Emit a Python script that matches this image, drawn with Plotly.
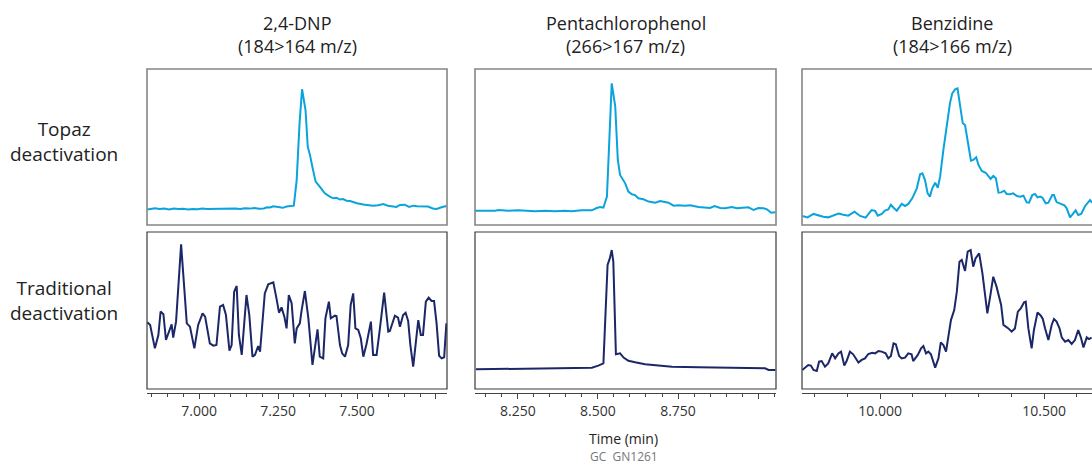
import plotly.graph_objects as go

# ---------------- data (time in min, intensity in % of panel height) ----------------
t_dnp_topaz = [6.836, 6.85, 6.86, 6.875, 6.89, 6.905, 6.92, 6.935, 6.95, 6.965, 6.98, 6.995, 7.01, 7.025,
               7.04, 7.055, 7.07, 7.085, 7.10, 7.115, 7.13, 7.145, 7.16, 7.175, 7.19, 7.205, 7.215, 7.225,
               7.235, 7.25, 7.265, 7.277, 7.29, 7.300, 7.309, 7.318, 7.326, 7.337, 7.344, 7.351, 7.360,
               7.369, 7.382, 7.398, 7.414, 7.425, 7.435, 7.446, 7.456, 7.467, 7.478, 7.488, 7.50, 7.52,
               7.535, 7.551, 7.567, 7.583, 7.598, 7.614, 7.625, 7.636, 7.651, 7.665, 7.678, 7.69, 7.709,
               7.725, 7.74, 7.752, 7.768, 7.783]
i_dnp_topaz = [10.0, 10.3, 10.8, 10.2, 10.5, 10.0, 10.6, 10.2, 10.4, 10.0, 10.3, 10.1, 10.5, 10.2,
               10.3, 10.4, 10.1, 10.6, 10.3, 10.5, 10.2, 10.7, 10.5, 10.9, 10.4, 10.6, 11.4, 11.2,
               12.0, 11.5, 11.0, 11.8, 12.2, 12.4, 28.8, 65.0, 87.0, 73.7, 50.2, 44.9, 36.0,
               27.8, 24.6, 20.3, 18.2, 17.1, 17.5, 16.3, 16.6, 15.6, 15.4, 14.7, 14.0, 13.2,
               12.9, 12.4, 12.6, 13.4, 12.4, 12.0, 11.6, 12.9, 13.0, 11.6, 12.4, 12.0, 12.1,
               11.8, 10.6, 10.3, 11.4, 12.2]

t_dnp_trad = [6.836, 6.845, 6.860, 6.871, 6.878, 6.887, 6.895, 6.913, 6.918, 6.927, 6.943, 6.961, 6.971,
              6.980, 6.985, 6.997, 7.011, 7.019, 7.034, 7.045, 7.055, 7.066, 7.076, 7.085, 7.096, 7.103,
              7.111, 7.119, 7.126, 7.135, 7.150, 7.159, 7.169, 7.177, 7.187, 7.193, 7.208, 7.219, 7.235,
              7.245, 7.253, 7.261, 7.270, 7.277, 7.284, 7.293, 7.303, 7.309, 7.319, 7.324, 7.335, 7.346,
              7.359, 7.375, 7.382, 7.393, 7.400, 7.411, 7.417, 7.430, 7.435, 7.446, 7.453, 7.462, 7.472,
              7.480, 7.488, 7.495, 7.504, 7.512, 7.520, 7.530, 7.544, 7.551, 7.562, 7.572, 7.586, 7.599,
              7.604, 7.620, 7.630, 7.636, 7.646, 7.654, 7.662, 7.669, 7.678, 7.686, 7.694, 7.702, 7.709,
              7.718, 7.727, 7.736, 7.744, 7.752, 7.760, 7.768, 7.776, 7.783]
i_dnp_trad = [42.5, 40.8, 25.9, 34.4, 49.3, 47.6, 31.2, 41.2, 32.7, 42.9, 92.1, 41.8, 39.7,
              29.1, 25.9, 40.8, 48.2, 46.1, 29.1, 27.6, 28.0, 52.4, 53.5, 47.1, 24.4, 28.0,
              62.0, 65.6, 34.4, 21.7, 59.9, 47.1, 20.6, 21.7, 27.4, 23.8, 60.9, 66.7, 67.9,
              57.7, 48.6, 52.0, 46.1, 38.6, 59.9, 54.6, 29.1, 38.6, 41.8, 49.3, 62.4, 45.0,
              15.3, 38.0, 20.6, 19.5, 45.0, 55.6, 45.0, 46.7, 46.5, 28.0, 22.7, 20.6, 28.0,
              53.5, 60.9, 38.6, 37.6, 32.3, 20.6, 28.5, 42.9, 21.7, 21.7, 37.6, 61.4, 36.5,
              36.9, 46.7, 45.4, 39.7, 47.1, 48.6, 43.3, 28.0, 14.2, 29.1, 43.9, 34.4, 34.4,
              55.6, 58.2, 56.1, 56.1, 41.8, 21.2, 19.5, 20.2, 41.8]

t_pcp_topaz = [8.116, 8.147, 8.179, 8.189, 8.220, 8.251, 8.283, 8.304, 8.335, 8.366, 8.397, 8.418, 8.449,
               8.481, 8.496, 8.507, 8.517, 8.528, 8.543, 8.554, 8.562, 8.569, 8.585, 8.595, 8.606, 8.616,
               8.626, 8.642, 8.658, 8.679, 8.694, 8.710, 8.720, 8.736, 8.751, 8.772, 8.788, 8.814, 8.835,
               8.850, 8.864, 8.882, 8.897, 8.918, 8.934, 8.970, 8.986, 9.001, 9.017, 9.028, 9.041, 9.054]
i_pcp_topaz = [9.2, 9.0, 9.2, 9.6, 9.2, 9.4, 9.0, 8.8, 9.2, 8.8, 9.2, 8.8, 9.4,
               9.4, 10.9, 11.5, 11.1, 18.2, 90.8, 75.9, 41.7, 32.1, 26.7, 21.4, 19.7, 19.2,
               17.1, 16.5, 15.0, 14.3, 15.4, 14.7, 14.3, 12.4, 12.6, 12.4, 12.6, 11.5, 10.9,
               10.9, 12.2, 10.9, 10.7, 11.5, 10.7, 11.3, 9.6, 10.9, 10.7, 10.0, 7.9, 8.1]

t_pcp_trad = [8.119, 8.189, 8.293, 8.397, 8.481, 8.501, 8.517, 8.530, 8.537, 8.543, 8.548, 8.556,
              8.569, 8.580, 8.595, 8.616, 8.647, 8.689, 8.731, 8.814, 8.918, 9.022, 9.033, 9.054]
i_pcp_trad = [12.5, 12.7, 12.7, 13.2, 13.6, 14.9, 16.3, 79.0, 83.2, 88.5, 81.1, 22.1,
              22.7, 20.0, 18.0, 17.0, 15.7, 14.9, 14.2, 13.8, 13.6, 13.2, 12.1, 12.1]

t_bnz_topaz = [9.763, 9.779, 9.797, 9.812, 9.827, 9.842, 9.858, 9.873, 9.888, 9.903, 9.922, 9.939, 9.956,
               9.974, 9.985, 9.993, 10.005, 10.015, 10.025, 10.033, 10.041, 10.051, 10.066, 10.076, 10.086,
               10.098, 10.112, 10.122, 10.129, 10.137, 10.145, 10.152, 10.159, 10.168, 10.176, 10.183,
               10.193, 10.203, 10.213, 10.220, 10.229, 10.236, 10.244, 10.252, 10.259, 10.269, 10.277,
               10.284, 10.293, 10.300, 10.310, 10.322, 10.330, 10.337, 10.345, 10.353, 10.361, 10.369,
               10.378, 10.386, 10.396, 10.406, 10.417, 10.427, 10.437, 10.447, 10.454, 10.464, 10.472,
               10.480, 10.488, 10.495, 10.505, 10.513, 10.525, 10.530, 10.538, 10.549, 10.562, 10.569,
               10.579, 10.589, 10.596, 10.604, 10.613, 10.625, 10.640, 10.646]
i_bnz_topaz = [5.8, 4.9, 7.1, 6.2, 5.3, 4.9, 6.0, 7.3, 6.6, 6.0, 8.5, 5.8, 4.7,
               9.6, 9.0, 6.0, 7.1, 9.2, 10.0, 13.0, 11.1, 9.2, 13.5, 12.2, 13.5,
               17.1, 23.5, 32.5, 33.1, 28.8, 20.3, 18.2, 23.5, 27.1, 23.9, 31.0,
               48.1, 63.0, 78.0, 84.4, 87.0, 87.6, 75.9, 65.2, 64.1, 52.4, 41.2,
               41.7, 43.4, 38.5, 34.6, 33.5, 31.0, 29.5, 31.4, 29.9, 20.7, 20.9,
               22.0, 19.9, 19.7, 20.3, 18.6, 18.2, 18.8, 14.5, 14.3, 19.2, 19.9,
               17.7, 18.2, 17.5, 13.9, 14.3, 19.2, 19.2, 14.7, 13.9, 12.6, 10.7,
               4.9, 7.5, 9.4, 6.4, 7.1, 12.2, 16.0, 14.3]

t_bnz_trad = [9.763, 9.771, 9.781, 9.789, 9.797, 9.807, 9.814, 9.822, 9.832, 9.842, 9.854, 9.863, 9.873,
              9.881, 9.891, 9.898, 9.908, 9.918, 9.934, 9.944, 9.954, 9.964, 9.976, 9.985, 9.995, 10.005,
              10.017, 10.025, 10.033, 10.041, 10.048, 10.058, 10.066, 10.076, 10.086, 10.096, 10.101,
              10.115, 10.125, 10.132, 10.140, 10.147, 10.155, 10.168, 10.178, 10.185, 10.193, 10.201,
              10.208, 10.216, 10.226, 10.234, 10.242, 10.249, 10.259, 10.267, 10.276, 10.284, 10.291,
              10.302, 10.312, 10.320, 10.327, 10.335, 10.345, 10.355, 10.369, 10.376, 10.384, 10.391,
              10.401, 10.411, 10.420, 10.429, 10.439, 10.444, 10.452, 10.462, 10.469, 10.480, 10.490,
              10.496, 10.503, 10.513, 10.523, 10.530, 10.538, 10.547, 10.554, 10.564, 10.574, 10.584,
              10.594, 10.604, 10.612, 10.620, 10.630, 10.637, 10.645]
i_bnz_trad = [12.1, 13.6, 15.3, 14.9, 12.1, 11.5, 17.4, 17.8, 14.2, 16.3, 22.7, 19.5, 22.7,
              23.8, 14.9, 17.8, 23.8, 22.1, 16.8, 18.5, 19.5, 22.3, 23.1, 22.7, 24.2, 23.8,
              22.7, 19.5, 21.0, 29.1, 28.5, 21.0, 19.5, 20.0, 22.7, 22.1, 17.8,
              21.7, 25.9, 27.4, 22.7, 23.8, 22.1, 13.6, 19.5, 29.7, 28.0, 23.8,
              32.3, 43.9, 50.3, 62.0, 81.1, 82.2, 75.2, 87.5, 88.5, 77.9, 83.2,
              86.4, 73.7, 57.7, 48.2, 58.2, 71.5, 65.2, 53.5, 40.8, 39.7, 38.6,
              36.5, 38.6, 49.3, 51.4, 55.2, 55.6, 38.6, 25.9, 37.6, 48.8, 46.7,
              44.6, 38.6, 31.2, 40.8, 44.6, 42.9, 38.6, 32.7, 30.1, 31.2, 28.7,
              31.2, 37.6, 32.9, 26.5, 32.9, 31.8, 32.7]

compound_titles = ["2,4-DNP", "Pentachlorophenol", "Benzidine"]
transition_labels = ["(184>164 m/z)", "(266>167 m/z)", "(184>166 m/z)"]
row_labels = ["Topaz<br>deactivation", "Traditional<br>deactivation"]
x_ranges = [[6.835, 7.785], [8.116, 9.056], [9.762, 10.646]]
major_ticks = [[7.0, 7.25, 7.5, 7.75], [8.25, 8.5, 8.75, 9.0], [10.0, 10.5]]
major_text = [["7.000", "7.250", "7.500", ""], ["8.250", "8.500", "8.750", ""], ["10.000", "10.500"]]
minor_steps = [0.05, 0.05, 0.1]
x_label = "Time (min)"
footer = "GC\u00a0 GN1261"

# ---------------- layout geometry ----------------
W, H = 1092, 473
FONT = "Open Sans"
TOP_COLOR = "#0aa3dc"
TRAD_COLOR = "#1c2767"

def py(p):
    return 1 - p / H

col_px = [(147, 447), (475, 776), (802, 1092)]
top_box = (69, 225)
bot_box = (232, 389)
bot_axis = 393

fig = go.Figure()

top_series = [(t_dnp_topaz, i_dnp_topaz), (t_pcp_topaz, i_pcp_topaz), (t_bnz_topaz, i_bnz_topaz)]
bot_series = [(t_dnp_trad, i_dnp_trad), (t_pcp_trad, i_pcp_trad), (t_bnz_trad, i_bnz_trad)]

layout = {}
shapes = []
for c in range(3):
    xd = [col_px[c][0] / W, min(col_px[c][1] / W, 1.0)]
    n = c + 1
    fig.add_trace(go.Scatter(x=top_series[c][0], y=top_series[c][1], mode="lines",
                             line=dict(color=TOP_COLOR, width=2), xaxis=f"x{n}", yaxis=f"y{n}",
                             hoverinfo="skip"))
    layout[f"xaxis{n}"] = dict(domain=xd, range=x_ranges[c], visible=False, anchor=f"y{n}")
    layout[f"yaxis{n}"] = dict(domain=[py(top_box[1]), py(top_box[0])], range=[0, 100],
                               visible=False, anchor=f"x{n}")
    m = c + 4
    fig.add_trace(go.Scatter(x=bot_series[c][0], y=bot_series[c][1], mode="lines",
                             line=dict(color=TRAD_COLOR, width=2), xaxis=f"x{m}", yaxis=f"y{m}",
                             hoverinfo="skip"))
    layout[f"xaxis{m}"] = dict(
        domain=xd, range=x_ranges[c], anchor=f"y{m}",
        showline=True, linecolor="#444", linewidth=1.2, mirror=False,
        showgrid=False, zeroline=False,
        ticks="outside", ticklen=5, tickwidth=1, tickcolor="#444",
        tickmode="array", tickvals=major_ticks[c], ticktext=major_text[c],
        tickfont=dict(family=FONT, size=14, color="#333"),
        minor=dict(ticks="outside", ticklen=3, tickwidth=1, tickcolor="#444",
                   tickmode="linear", tick0=major_ticks[c][0], dtick=minor_steps[c]),
    )
    pad = (bot_axis - bot_box[1]) / (bot_box[1] - bot_box[0]) * 100
    layout[f"yaxis{m}"] = dict(domain=[py(bot_axis), py(bot_box[0])], range=[-pad, 100],
                               visible=False, anchor=f"x{m}")

    x0 = col_px[c][0] / W
    x1 = col_px[c][1] / W if c < 2 else 1.02
    shapes.append(dict(type="rect", xref="paper", yref="paper", x0=x0, x1=x1,
                       y0=py(top_box[1]), y1=py(top_box[0]),
                       line=dict(color="#858585", width=1.6), fillcolor="rgba(0,0,0,0)", layer="above"))
    shapes.append(dict(type="rect", xref="paper", yref="paper", x0=x0, x1=x1,
                       y0=py(bot_box[1]), y1=py(bot_box[0]),
                       line=dict(color="#3a3a3a", width=1.2), fillcolor="rgba(0,0,0,0)", layer="above"))

annotations = []
for c in range(3):
    cx = (col_px[c][0] + (col_px[c][1] if c < 2 else 1102)) / 2 / W
    annotations.append(dict(text=compound_titles[c], x=cx, y=py(23), xref="paper", yref="paper",
                            showarrow=False, xanchor="center", yanchor="middle",
                            font=dict(family=FONT, size=18, color="#222")))
    annotations.append(dict(text=transition_labels[c], x=cx, y=py(46), xref="paper", yref="paper",
                            showarrow=False, xanchor="center", yanchor="middle",
                            font=dict(family=FONT, size=18, color="#222")))

row_y = [141, 300]
for r in range(2):
    annotations.append(dict(text=row_labels[r], x=64 / W, y=py(row_y[r]), xref="paper",
                            yref="paper", showarrow=False, xanchor="center", yanchor="middle",
                            align="center", font=dict(family=FONT, size=19, color="#222")))

annotations.append(dict(text=x_label, x=623 / W, y=py(438), xref="paper", yref="paper",
                        showarrow=False, xanchor="center", yanchor="middle",
                        font=dict(family=FONT, size=14, color="#222")))
annotations.append(dict(text=footer, x=624 / W, y=py(456), xref="paper", yref="paper",
                        showarrow=False, xanchor="center", yanchor="middle",
                        font=dict(family=FONT, size=12, color="#777")))

fig.update_layout(width=W, height=H, margin=dict(l=0, r=0, t=0, b=0),
                  plot_bgcolor="white", paper_bgcolor="white", showlegend=False,
                  shapes=shapes, annotations=annotations, **layout)

fig.write_html("out.html", config={"displayModeBar": False},
               post_script="document.body.style.margin='0';")
